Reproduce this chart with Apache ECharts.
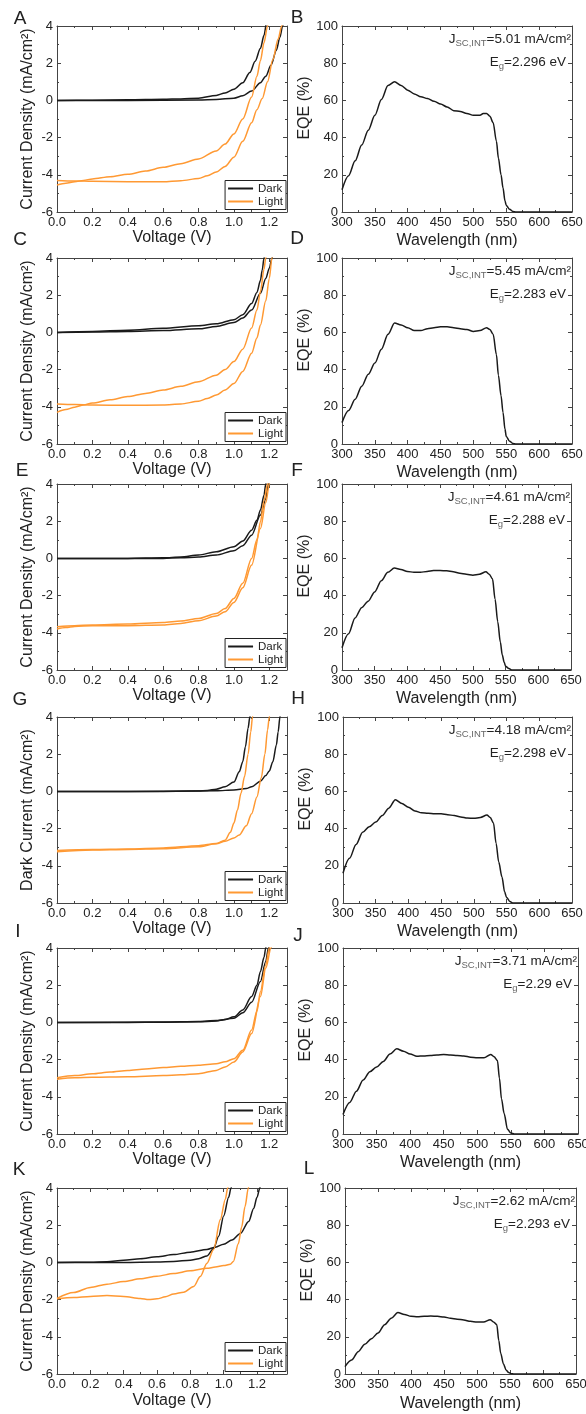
<!DOCTYPE html>
<html><head><meta charset="utf-8">
<script src="https://cdn.jsdelivr.net/npm/echarts@6/dist/echarts.min.js"></script>
<style>html,body{margin:0;padding:0;background:#fff}#c{width:586px;height:1414px}</style>
</head><body><div id="c"></div>
<script>
// ---------------- DATA ----------------
// J-V curves: [Voltage (V), Current density (mA/cm2)]
const A_dark1 = [[0,0],[0.2,0.01],[0.4,0.03],[0.6,0.06],[0.7,0.08],[0.8,0.12],[0.9,0.27],[0.95,0.4],[1.0,0.6],[1.05,0.95],[1.09,1.5],[1.12,2.1],[1.15,2.8],[1.17,3.5],[1.185,4.2],[1.2,5]];
const A_dark2 = [[0,0],[0.4,0.0],[0.8,0.02],[0.9,0.05],[1.0,0.12],[1.05,0.25],[1.1,0.5],[1.15,0.95],[1.18,1.3],[1.21,1.9],[1.24,2.7],[1.26,3.4],[1.275,4.0],[1.29,4.6]];
const A_light1 = [[0,-4.55],[0.05,-4.45],[0.1,-4.38],[0.15,-4.3],[0.2,-4.22],[0.3,-4.1],[0.4,-3.97],[0.5,-3.8],[0.6,-3.6],[0.7,-3.4],[0.8,-3.15],[0.9,-2.72],[0.95,-2.35],[1.0,-1.8],[1.05,-1.0],[1.1,0.18],[1.13,1.3],[1.15,2.15],[1.17,3.1],[1.19,4.0],[1.2,4.5]];
const A_light2 = [[0,-4.3],[0.1,-4.33],[0.2,-4.35],[0.4,-4.37],[0.6,-4.38],[0.7,-4.32],[0.8,-4.2],[0.85,-4.05],[0.9,-3.85],[0.95,-3.55],[1.0,-3.05],[1.05,-2.2],[1.1,-1.2],[1.13,-0.5],[1.16,0.1],[1.19,1.0],[1.22,2.2],[1.25,3.3],[1.27,4.0],[1.28,4.4]];

const C_dark1 = [[0,0],[0.2,0.05],[0.4,0.12],[0.6,0.22],[0.8,0.36],[0.9,0.46],[1.0,0.68],[1.05,0.95],[1.1,1.55],[1.13,2.15],[1.15,2.8],[1.16,3.35],[1.17,4.0],[1.18,4.7]];
const C_dark2 = [[0,0],[0.2,0.02],[0.4,0.05],[0.6,0.1],[0.8,0.19],[0.9,0.32],[1.0,0.53],[1.05,0.77],[1.1,1.2],[1.15,2.1],[1.18,2.9],[1.2,3.45],[1.215,4.0],[1.23,4.6]];
const C_light1 = [[0,-4.3],[0.05,-4.15],[0.1,-4.02],[0.15,-3.9],[0.2,-3.8],[0.3,-3.62],[0.4,-3.45],[0.5,-3.28],[0.6,-3.1],[0.7,-2.9],[0.8,-2.65],[0.9,-2.3],[0.95,-2.0],[1.0,-1.57],[1.05,-0.9],[1.1,0.23],[1.13,1.2],[1.15,2.2],[1.17,3.4],[1.18,4.0],[1.19,4.6]];
const C_light2 = [[0,-3.85],[0.1,-3.88],[0.2,-3.9],[0.4,-3.92],[0.6,-3.9],[0.7,-3.85],[0.8,-3.7],[0.85,-3.55],[0.9,-3.37],[0.95,-3.1],[1.0,-2.75],[1.05,-2.1],[1.1,-1.12],[1.13,-0.3],[1.15,0.4],[1.18,1.7],[1.2,2.9],[1.215,4.0],[1.23,4.8]];

const E_dark1 = [[0,0],[0.4,0.0],[0.6,0.03],[0.7,0.08],[0.8,0.18],[0.9,0.36],[1.0,0.63],[1.05,0.93],[1.1,1.52],[1.13,2.05],[1.15,2.6],[1.17,3.4],[1.18,4.0],[1.19,4.6]];
const E_dark2 = [[0,0],[0.6,0.0],[0.7,0.03],[0.8,0.07],[0.9,0.18],[1.0,0.41],[1.05,0.68],[1.1,1.25],[1.15,2.33],[1.18,3.2],[1.195,4.0],[1.21,4.8]];
const E_light1 = [[0,-3.67],[0.1,-3.62],[0.2,-3.58],[0.4,-3.53],[0.6,-3.44],[0.7,-3.36],[0.8,-3.23],[0.9,-2.96],[0.95,-2.7],[1.0,-2.15],[1.05,-1.34],[1.1,0],[1.13,1.0],[1.15,1.97],[1.17,3.1],[1.19,4.0],[1.2,4.6]];
const E_light2 = [[0,-3.8],[0.05,-3.72],[0.1,-3.66],[0.2,-3.62],[0.4,-3.62],[0.6,-3.58],[0.7,-3.5],[0.8,-3.35],[0.9,-3.1],[0.95,-2.87],[1.0,-2.37],[1.05,-1.58],[1.1,-0.36],[1.15,1.61],[1.18,3.0],[1.2,4.0],[1.21,4.6]];

const G_dark1 = [[0,0],[0.4,0],[0.8,0.02],[0.85,0.05],[0.9,0.12],[0.95,0.25],[1.0,0.5],[1.03,1.05],[1.05,1.6],[1.065,2.4],[1.08,3.4],[1.09,4.0],[1.1,4.6]];
const G_dark2 = [[0,0],[0.6,0],[0.9,0.03],[1.0,0.08],[1.07,0.15],[1.1,0.25],[1.15,0.55],[1.18,0.85],[1.2,1.1],[1.22,1.6],[1.24,2.5],[1.25,3.2],[1.26,4.0],[1.27,4.8]];
const G_light1 = [[0,-3.18],[0.2,-3.13],[0.4,-3.1],[0.6,-3.04],[0.8,-2.92],[0.9,-2.8],[0.95,-2.62],[0.98,-2.2],[1.0,-1.7],[1.02,-1.0],[1.04,-0.1],[1.06,0.8],[1.08,2.0],[1.095,3.2],[1.105,4.0],[1.115,4.7]];
const G_light2 = [[0,-3.25],[0.2,-3.15],[0.4,-3.12],[0.6,-3.08],[0.8,-2.98],[0.9,-2.82],[0.95,-2.68],[1.0,-2.5],[1.03,-2.35],[1.07,-1.85],[1.1,-1.2],[1.13,-0.3],[1.155,0.75],[1.175,2.0],[1.19,3.3],[1.2,4.0],[1.21,4.7]];

const I_dark1 = [[0,0],[0.4,0],[0.6,0.01],[0.8,0.03],[0.9,0.07],[0.95,0.15],[1.0,0.3],[1.05,0.67],[1.1,1.39],[1.13,2.0],[1.15,2.74],[1.17,3.5],[1.18,4.0],[1.19,4.6]];
const I_dark2 = [[0,0],[0.6,0.02],[0.8,0.05],[0.9,0.1],[1.0,0.22],[1.05,0.52],[1.1,1.08],[1.15,2.2],[1.18,3.28],[1.195,4.0],[1.21,4.7]];
const I_light1 = [[0,-2.97],[0.1,-2.86],[0.2,-2.76],[0.3,-2.67],[0.4,-2.58],[0.5,-2.5],[0.6,-2.43],[0.7,-2.36],[0.8,-2.3],[0.9,-2.22],[0.95,-2.12],[1.0,-1.95],[1.05,-1.5],[1.1,-0.41],[1.13,0.6],[1.15,1.66],[1.18,3.1],[1.2,4.0],[1.21,4.6]];
const I_light2 = [[0,-3.06],[0.1,-2.98],[0.2,-2.95],[0.4,-2.92],[0.6,-2.86],[0.7,-2.82],[0.8,-2.76],[0.9,-2.58],[0.95,-2.4],[1.0,-2.13],[1.05,-1.59],[1.1,-0.6],[1.15,1.39],[1.18,2.92],[1.21,4.0],[1.22,4.6]];

const K_dark1 = [[0,0],[0.2,0.01],[0.3,0.04],[0.4,0.12],[0.5,0.2],[0.6,0.3],[0.7,0.42],[0.8,0.55],[0.9,0.7],[0.95,0.82],[1.0,0.98],[1.05,1.2],[1.1,1.55],[1.15,2.2],[1.18,2.9],[1.2,3.5],[1.217,4.0],[1.23,4.6]];
const K_dark2 = [[0,0],[0.4,0],[0.6,0.02],[0.7,0.05],[0.8,0.12],[0.85,0.2],[0.9,0.35],[0.94,0.75],[0.97,1.4],[1.0,2.5],[1.03,3.5],[1.044,4.0],[1.06,4.7]];
const K_light1 = [[0,-1.96],[0.1,-1.89],[0.2,-1.83],[0.3,-1.78],[0.4,-1.83],[0.5,-1.94],[0.55,-2.0],[0.6,-1.96],[0.65,-1.85],[0.7,-1.7],[0.76,-1.6],[0.82,-1.3],[0.86,-0.76],[0.9,-0.04],[0.94,0.7],[0.98,2.3],[1.01,3.4],[1.024,4.0],[1.04,4.7]];
const K_light2 = [[0,-1.93],[0.1,-1.62],[0.2,-1.35],[0.3,-1.17],[0.4,-1.03],[0.5,-0.88],[0.6,-0.74],[0.7,-0.6],[0.8,-0.45],[0.9,-0.32],[0.95,-0.25],[1.0,-0.17],[1.04,-0.1],[1.058,0.05],[1.088,1.0],[1.108,1.9],[1.128,3.0],[1.148,4.0],[1.16,4.6]];

// EQE spectra: [Wavelength (nm), EQE (%)]
const B_eqe = [[300,12],[310,19.5],[320,27.5],[330,36],[340,44],[350,52],[360,60.5],[370,68],[380,70],[390,68],[400,65.5],[410,63.5],[420,62],[430,61],[440,59.5],[450,58],[460,56.5],[470,54.5],[480,54],[490,53],[500,52],[510,52],[515,53],[520,53],[525,51.5],[530,48],[535,38],[538,29],[542,20],[545,13],[548,6],[550,3.5],[555,1.5],[560,0.3],[565,0],[600,0],[650,0]];
const D_eqe = [[300,11.5],[310,18],[320,24],[330,31],[340,37.5],[350,43.5],[360,51],[370,59],[380,65],[390,64],[400,62.5],[410,61],[420,61],[430,62],[440,62.5],[450,63],[460,63],[470,62.5],[480,62],[490,61.5],[500,60.5],[510,61],[520,62.5],[525,61.5],[530,59],[535,48],[538,37],[542,26],[545,17],[548,8],[550,4],[555,1.5],[560,0.3],[565,0],[600,0],[650,0]];
const F_eqe = [[300,12],[310,19.5],[320,28],[330,33.5],[340,37],[350,42],[360,48],[370,52.5],[380,54.8],[390,54],[400,53],[410,52.5],[420,52.5],[430,53],[440,53.5],[450,53.5],[460,53.3],[470,52.8],[480,52],[490,51.5],[500,51],[510,51.5],[520,52.8],[525,51.5],[530,49],[534,38],[538,26],[542,15],[545,8],[548,4],[550,2],[555,0.8],[560,0],[600,0],[650,0]];
const H_eqe = [[300,16],[310,24],[320,31.5],[330,38],[340,41],[350,43.5],[360,47],[370,51],[380,55.5],[390,53.5],[400,51.5],[410,49.5],[420,48.5],[430,48.3],[440,48],[450,48],[460,47.5],[470,47],[480,46.3],[490,45.7],[500,45.5],[510,46],[520,47.3],[525,46],[530,43],[534,32],[538,22],[543,14],[547,6],[550,3],[555,0.8],[560,0],[600,0],[650,0]];
const J_eqe = [[300,10.5],[310,17],[320,23],[330,29],[340,33.5],[350,36],[360,39],[370,43],[380,45.8],[390,44.5],[400,43],[410,41.8],[420,42],[430,42.2],[440,42.5],[450,42.7],[460,42.5],[470,42.2],[480,42],[490,41.3],[500,41],[510,41],[520,42.8],[525,41.5],[530,39.5],[533,30],[536,19],[540,11],[545,2.5],[550,0.5],[555,0],[600,0],[650,0]];
const L_eqe = [[300,4],[310,7.5],[320,12],[330,16],[340,19],[350,22],[360,26.5],[370,30],[380,33],[390,32],[400,31],[410,30.8],[420,31],[430,31.2],[440,31],[450,30.6],[460,30],[470,29.5],[480,29],[490,28.3],[500,28],[510,28],[520,29.2],[525,28],[530,26.5],[533,18],[536,11],[540,5.5],[544,2.2],[548,0.8],[552,0.2],[556,0],[600,0],[650,0]];

const darkCurves = [[A_dark1,A_dark2],[C_dark1,C_dark2],[E_dark1,E_dark2],[G_dark1,G_dark2],[I_dark1,I_dark2],[K_dark1,K_dark2]];
const lightCurves = [[A_light1,A_light2],[C_light1,C_light2],[E_light1,E_light2],[G_light1,G_light2],[I_light1,I_light2],[K_light1,K_light2]];
const eqeCurves = [B_eqe,D_eqe,F_eqe,H_eqe,J_eqe,L_eqe];

const jvLetters = ['A','C','E','G','I','K'];
const eqeLetters = ['B','D','F','H','J','L'];
const jvYTitles = ['Current Density (mA/cm²)','Current Density (mA/cm²)','Current Density (mA/cm²)','Dark Current (mA/cm²)','Current Density (mA/cm²)','Current Density (mA/cm²)'];
const jvXMax = [1.3,1.3,1.3,1.3,1.3,1.38];
const jscValues = ['5.01','5.45','4.61','4.18','3.71','2.62'];
const egValues = ['2.296','2.283','2.288','2.298','2.29','2.293'];
const legendNames = ['Dark','Light'];

// ---------------- LAYOUT / STYLE ----------------
const FONT = '"Liberation Sans", Arial, Helvetica, sans-serif';
const TXT = '#222';
const AXC = '#444';
const DARK = '#1a1a1a';
const LIGHT = '#ff9933';
const W = 586, HT = 1414;
const rowTops = [26, 258, 484, 717, 948, 1188];
const PH = 186;
const leftBox = [57, 230];
const rightBoxes = [[342,230],[342,230],[342,229],[343,229],[343,235],[345,231]];
const jvLetterPos = [[20,19],[20,240],[22,471],[20,700],[18,932],[19,1170]];
const eqeLetterPos = [[297,18],[297,239],[297,471],[298,699],[298,936],[309,1169]];
const xNameGap = [18,18,18,18,18,19];

const grids = [], xAxes = [], yAxes = [], series = [], legends = [], graphics = [];

function mkAxis(base, extra) {
  return Object.assign({
    type: 'value',
    axisLine: {show: true, onZero: false, lineStyle: {color: AXC, width: 1}},
    axisTick: {show: true, inside: true, length: 4, lineStyle: {color: AXC, width: 1}},
    minorTick: {show: true, splitNumber: 2, length: 2, lineStyle: {color: AXC, width: 1}},
    splitLine: {show: false},
    minorSplitLine: {show: false}
  }, base, extra);
}

function addGrid(left, width, top, xr, yr, xName, yName, xGap, yGap, yPad, xFmt) {
  const g = grids.length;
  grids.push({left: left, top: top, width: width, height: PH, containLabel: false, outerBoundsMode: 'none'});
  const xBase = {gridIndex: g, min: xr[0], max: xr[1], interval: xr[2]};
  const yBase = {gridIndex: g, min: yr[0], max: yr[1], interval: yr[2]};
  xAxes.push(mkAxis(xBase, {
    position: 'bottom', name: xName, nameLocation: 'middle', nameGap: xGap,
    nameTextStyle: {fontSize: 16, fontFamily: FONT, color: TXT},
    axisLabel: {show: true, color: TXT, fontSize: 13, fontFamily: FONT, margin: 4, showMaxLabel: (xr[1] % xr[2] === 0) || xr[1] === 650, formatter: xFmt}
  }));
  xAxes.push(mkAxis(xBase, {position: 'top', axisLabel: {show: false}}));
  yAxes.push(mkAxis(yBase, {
    position: 'left', name: yName, nameLocation: 'middle', nameGap: yGap,
    nameTextStyle: {fontSize: 16, fontFamily: FONT, color: TXT, padding: yPad},
    axisLabel: {show: true, color: TXT, fontSize: 13, fontFamily: FONT, margin: 4}
  }));
  yAxes.push(mkAxis(yBase, {position: 'right', axisLabel: {show: false}}));
  return g;
}

function lineSeries(name, color, data, g) {
  return {
    type: 'line', name: name, data: data, xAxisIndex: 2 * g, yAxisIndex: 2 * g,
    showSymbol: false, symbol: 'none', smooth: 0.3, smoothMonotone: 'x', clip: true,
    color: color, lineStyle: {color: color, width: 1.5}, itemStyle: {color: color},
    silent: true
  };
}

const annRich = {
  n: {fontSize: 13.5, fontFamily: FONT, fill: TXT, color: TXT, lineHeight: 19, verticalAlign: 'middle'},
  s: {fontSize: 9.5, fontFamily: FONT, fill: '#666', color: '#666', verticalAlign: 'bottom'}
};

for (let i = 0; i < 6; i++) {
  const top = rowTops[i];
  // J-V panel
  const gL = addGrid(leftBox[0], leftBox[1], top, [0, jvXMax[i], 0.2], [-6, 4, 2],
    'Voltage (V)', jvYTitles[i], xNameGap[i], 21, [0, 0, 0, 0], v => v.toFixed(1));
  darkCurves[i].forEach(d => series.push(lineSeries(legendNames[0], DARK, d, gL)));
  lightCurves[i].forEach(d => series.push(lineSeries(legendNames[1], LIGHT, d, gL)));
  legends.push({
    orient: 'vertical', right: W - (leftBox[0] + leftBox[1]) + 1, bottom: HT - (top + PH - 2.5),
    data: legendNames, icon: 'rect', itemWidth: 25, itemHeight: 2, itemGap: 1,
    padding: [2, 3, 2, 3], borderColor: '#222', borderWidth: 1, borderRadius: 0,
    backgroundColor: '#fff', selectedMode: false,
    textStyle: {fontSize: 11.5, fontFamily: FONT, color: TXT, lineHeight: 12}
  });
  // EQE panel
  const rb = rightBoxes[i];
  const gR = addGrid(rb[0], rb[1], top, [300, 650, 50], [0, 100, 20],
    'Wavelength (nm)', 'EQE (%)', xNameGap[i] + 3, 25, [0, 0, 0, 22], v => String(v));
  series.push(lineSeries('EQE', DARK, eqeCurves[i], gR));
  // annotations
  const R = rb[0] + rb[1];
  graphics.push({
    type: 'text', x: R - 1, y: top + 13, silent: true,
    style: {
      text: '{n|J}{s|SC,INT}{n|=' + jscValues[i] + ' mA/cm²}',
      align: 'right', verticalAlign: 'middle', textAlign: 'right', textVerticalAlign: 'middle',
      rich: annRich
    }
  });
  graphics.push({
    type: 'text', x: R - 6, y: top + 36, silent: true,
    style: {
      text: '{n|E}{s|g}{n|=' + egValues[i] + ' eV}',
      align: 'right', verticalAlign: 'middle', textAlign: 'right', textVerticalAlign: 'middle',
      rich: annRich
    }
  });
  // panel letters
  [[jvLetters[i], jvLetterPos[i]], [eqeLetters[i], eqeLetterPos[i]]].forEach(([t, p]) => {
    graphics.push({
      type: 'text', x: p[0], y: p[1], silent: true,
      style: {text: t, font: '19px ' + FONT, fill: TXT, align: 'center', verticalAlign: 'middle', textAlign: 'center', textVerticalAlign: 'middle'}
    });
  });
}

const chart = echarts.init(document.getElementById('c'), null, {renderer: 'canvas', width: W, height: HT});
chart.setOption({
  animation: false,
  backgroundColor: '#fff',
  textStyle: {fontFamily: FONT},
  grid: grids, xAxis: xAxes, yAxis: yAxes, series: series, legend: legends, graphic: graphics
});
</script></body></html>
